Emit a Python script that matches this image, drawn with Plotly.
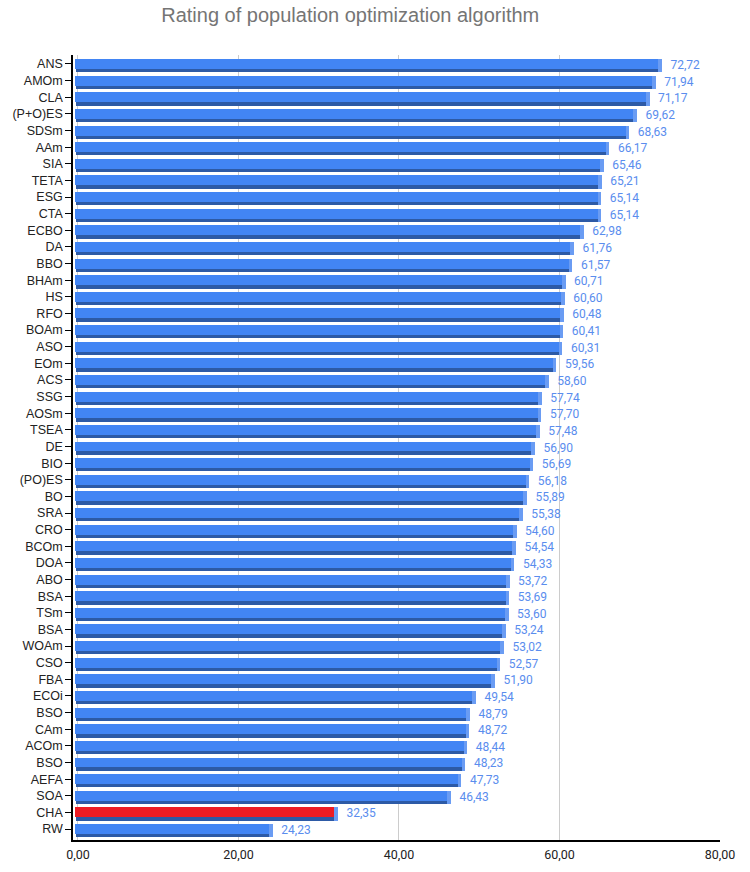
import plotly.graph_objects as go

algorithms = ["ANS", "AMOm", "CLA", "(P+O)ES", "SDSm", "AAm", "SIA", "TETA", "ESG", "CTA",
              "ECBO", "DA", "BBO", "BHAm", "HS", "RFO", "BOAm", "ASO", "EOm", "ACS",
              "SSG", "AOSm", "TSEA", "DE", "BIO", "(PO)ES", "BO", "SRA", "CRO", "BCOm",
              "DOA", "ABO", "BSA", "TSm", "BSA", "WOAm", "CSO", "FBA", "ECOi", "BSO",
              "CAm", "ACOm", "BSO", "AEFA", "SOA", "CHA", "RW"]
scores = [72.72, 71.94, 71.17, 69.62, 68.63, 66.17, 65.46, 65.21, 65.14, 65.14,
          62.98, 61.76, 61.57, 60.71, 60.60, 60.48, 60.41, 60.31, 59.56, 58.60,
          57.74, 57.70, 57.48, 56.90, 56.69, 56.18, 55.89, 55.38, 54.60, 54.54,
          54.33, 53.72, 53.69, 53.60, 53.24, 53.02, 52.57, 51.90, 49.54, 48.79,
          48.72, 48.44, 48.23, 47.73, 46.43, 32.35, 24.23]
highlight = "CHA"
x_ticks = [0, 20, 40, 60, 80]

FACE = "#4285F4"
RED = "#ED1C24"
DARK = "#2D5AA6"
SIDE = "#6A9CF3"
LABEL = "#5A8DEE"

n = len(algorithms)
idx = list(range(n))
fmt = lambda v: f"{v:.2f}".replace(".", ",")

fig = go.Figure()
# bottom (depth) strip
fig.add_trace(go.Bar(orientation="h", y=[i + 0.4 for i in idx], x=[v + 0.3 for v in scores],
                     base=-0.25, width=0.2, marker=dict(color=DARK, line=dict(width=0)),
                     hoverinfo="skip", showlegend=False))
# right side strip
fig.add_trace(go.Bar(orientation="h", y=[i + 0.1 for i in idx], x=[0.45] * n,
                     base=[v - 0.4 for v in scores], width=0.8,
                     marker=dict(color=SIDE, line=dict(width=0)),
                     hoverinfo="skip", showlegend=False))
# front face
fig.add_trace(go.Bar(orientation="h", y=idx, x=scores, base=-0.4, width=0.6,
                     marker=dict(color=[RED if a == highlight else FACE for a in algorithms],
                                 line=dict(width=0)),
                     showlegend=False))
# value labels
fig.add_trace(go.Scatter(x=scores, y=[i + 0.12 for i in idx], mode="text",
                         text=["\u00a0\u00a0\u00a0" + fmt(v) for v in scores],
                         textposition="middle right",
                         textfont=dict(family="Roboto, Arial", size=12, color=LABEL),
                         showlegend=False, hoverinfo="skip"))

yrange = [46.66, -0.54]
fig.update_layout(
    width=750, height=872,
    paper_bgcolor="white", plot_bgcolor="white",
    barmode="overlay", bargap=0,
    separators=", ",
    margin=dict(l=73, r=30, t=55, b=32, autoexpand=False),
    title=dict(text="Rating of population optimization algorithm",
               x=0.467, xanchor="center", y=0.983, yanchor="middle",
               font=dict(family="Arial, Liberation Sans", size=20, color="#757575")),
    xaxis=dict(range=[-0.62, 80], tickvals=x_ticks, tickformat=".2f", automargin=False,
               showgrid=True, gridcolor="#CCCCCC", gridwidth=1, zeroline=False,
               showline=True, linecolor="#000000", linewidth=1.5,
               ticks="outside", ticklen=2, tickcolor="rgba(0,0,0,0)",
               tickfont=dict(family="Roboto, Arial", size=12.5, color="#222222")),
    yaxis=dict(range=yrange, tickvals=idx, ticktext=algorithms, automargin=False,
               showgrid=False, zeroline=False,
               showline=True, linecolor="#000000", linewidth=1.5,
               ticks="outside", ticklen=6, tickcolor="#000000", tickwidth=1,
               tickfont=dict(family="Arial, Liberation Sans", size=12.5, color="#222222")),
    yaxis2=dict(range=yrange, overlaying="y", side="left", tickvals=idx, automargin=False,
                showticklabels=False, showgrid=False, zeroline=False,
                ticks="inside", ticklen=7, tickcolor="#000000", tickwidth=1),
    font=dict(family="Arial, Liberation Sans"),
)
fig.write_html("out.html", config={"displayModeBar": False},
               post_script="document.body.style.margin='0';document.body.style.padding='0';")
